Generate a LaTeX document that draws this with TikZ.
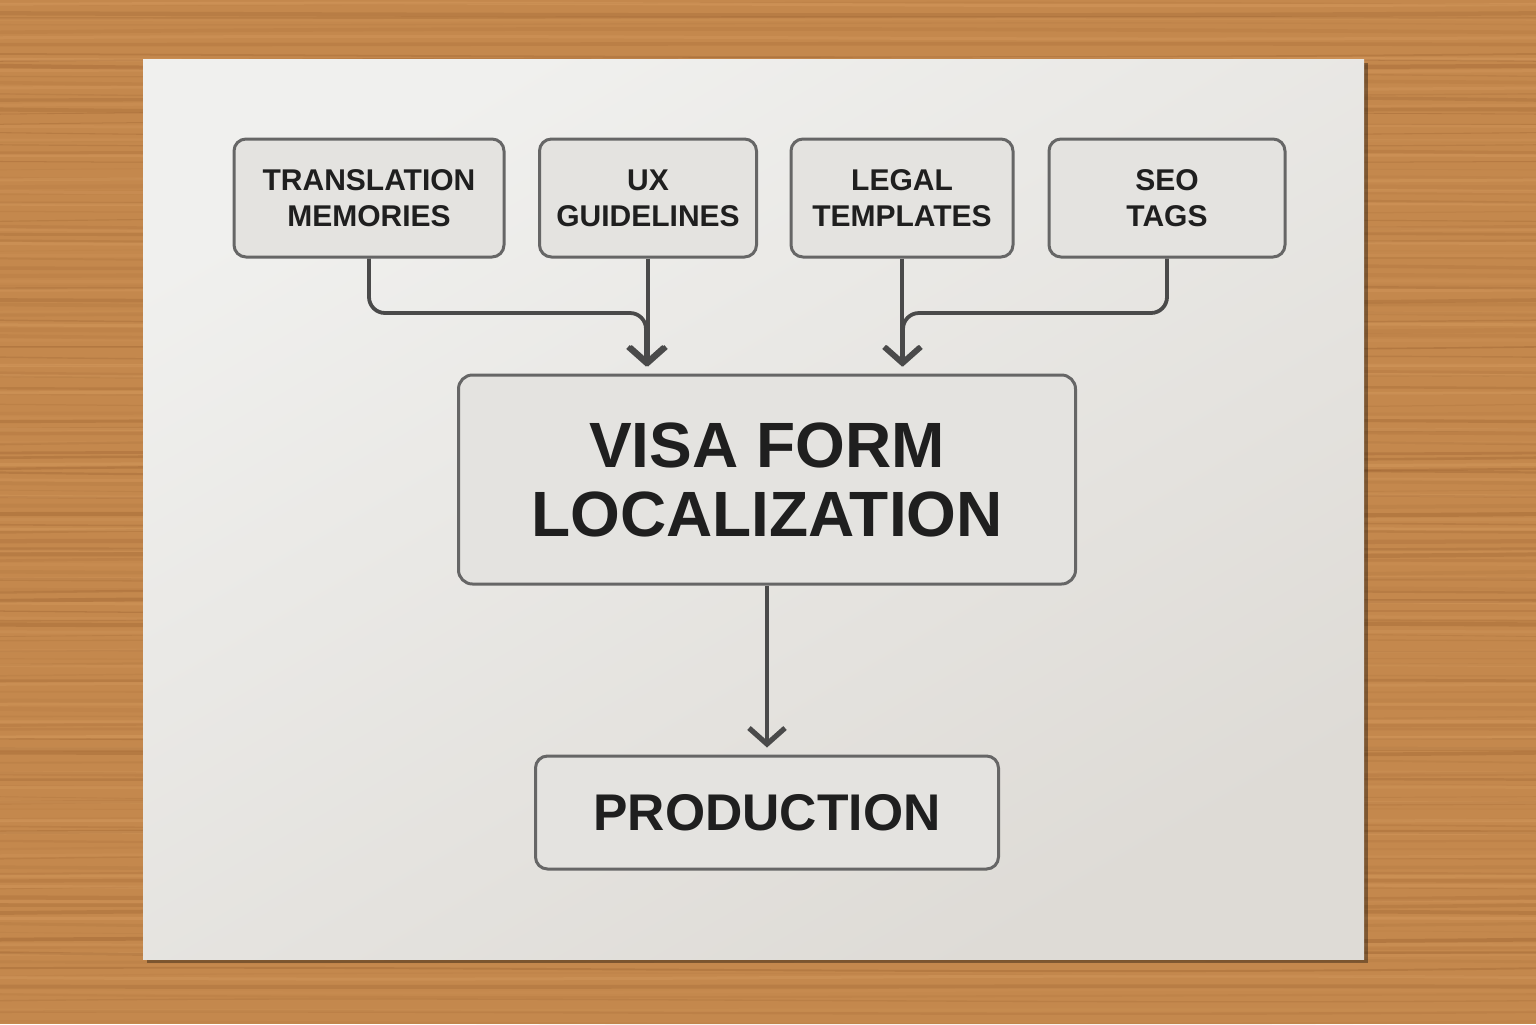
\documentclass[tikz,border=0pt]{standalone}
\usepackage{fontspec}
\setmainfont{Liberation Sans}
\usetikzlibrary{arrows.meta}
\definecolor{woodA}{HTML}{C4884D}
\definecolor{woodB}{HTML}{8E5527}
\definecolor{woodC}{HTML}{DCA266}
\definecolor{paperA}{HTML}{F0F0EE}
\definecolor{paperB}{HTML}{DEDBD6}
\definecolor{boxfill}{HTML}{E4E3E0}
\definecolor{boxline}{HTML}{666666}
\definecolor{arrowc}{HTML}{4A4A4A}
\definecolor{txt}{HTML}{1F1F1F}
\begin{document}
\begin{tikzpicture}[x=0.5pt,y=-0.5pt,
  box/.style={draw=boxline, line width=1.5pt, fill=boxfill, rounded corners=6pt,
    align=center, text=txt, inner sep=0pt,
    font=\bfseries\fontsize{15}{18}\selectfont},
  conn/.style={draw=arrowc, line width=1.9pt, rounded corners=8pt},
  arr/.style={-{Straight Barb[length=8pt,width=18pt,line width=2.6pt]}, shorten >=3.5pt}]
\useasboundingbox (0,0) rectangle (1536,1024);
% wood background
\fill[woodA] (0,0) rectangle (1536,1024);
\pgfmathsetseed{7}
\foreach \i in {0,...,130}{
  \pgfmathsetmacro\yy{\i*8+6*rnd}
  \pgfmathsetmacro\op{0.05+0.25*rnd}
  \pgfmathsetmacro\lw{0.4+1.8*rnd}
  \pgfmathsetmacro\da{16*rnd-8}
  \pgfmathsetmacro\db{16*rnd-8}
  \draw[woodB, opacity=\op, line width=\lw pt] (0,\yy) .. controls (500,{\yy+\da}) and (1000,{\yy+\db}) .. (1536,\yy);
}
\foreach \i in {0,...,60}{
  \pgfmathsetmacro\yy{\i*17+10*rnd}
  \pgfmathsetmacro\op{0.1+0.25*rnd}
  \pgfmathsetmacro\da{12*rnd-6}
  \draw[woodC, opacity=\op, line width=1.5pt] (0,\yy) .. controls (700,{\yy+\da}) and (900,{\yy-\da}) .. (1536,\yy);
}
% paper
\fill[black, opacity=0.35] (147,63) rectangle (1368,963);
\shade[top color=paperA, bottom color=paperB, shading angle=30] (143,59) rectangle (1364,959);
% nodes
\node[box, minimum width=135pt, minimum height=59pt] (tm) at (369,198) {TRANSLATION\\MEMORIES};
\node[box, minimum width=108.5pt, minimum height=59pt] (ux) at (648,198) {UX\\GUIDELINES};
\node[box, minimum width=111pt, minimum height=59pt] (lg) at (902,198) {LEGAL\\TEMPLATES};
\node[box, minimum width=118pt, minimum height=59pt] (seo) at (1167,198) {SEO\\TAGS};
\node[box, rounded corners=7pt, minimum width=308.5pt, minimum height=104.5pt,
  font=\bfseries\fontsize{32}{34.5}\selectfont] (main) at (767,479.5) {VISA FORM\\LOCALIZATION};
\node[box, minimum width=231.5pt, minimum height=56.5pt,
  font=\bfseries\fontsize{25.8}{30}\selectfont] (prod) at (767,812.5) {PRODUCTION};
% junctions
\coordinate (jl) at (646,313);
\coordinate (jr) at (903,313);
% connectors
\draw[conn, arr] (tm.south) |- (jl) -- (jl |- main.north);
\draw[conn, arr] (ux.south) -- (ux.south |- main.north);
\draw[conn, arr] (lg.south) -- (lg.south |- main.north);
\draw[conn, arr] (seo.south) |- (jr) -- (jr |- main.north);
\draw[conn, arr] (main.south) -- (prod.north);
\end{tikzpicture}
\end{document}
